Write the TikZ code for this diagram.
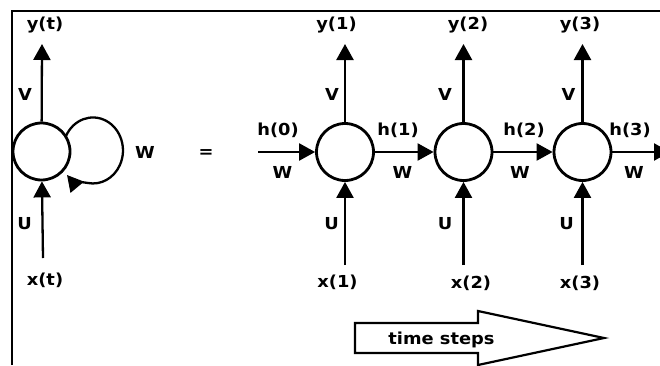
\documentclass[tikz,border=0pt]{standalone}
\usepackage{fontspec}
\newfontfamily\lblfont{DejaVu Sans}[FakeStretch=1.08]
\usetikzlibrary{arrows.meta}
\tikzset{
  neuron/.style={circle, draw, line width=2.8pt, minimum size=57pt, inner sep=0pt},
  arr/.style={line width=2.3pt, -{Triangle[length=16pt,width=17pt]}},
  lbl/.style={font=\lblfont\bfseries\fontsize{16.5}{16.5}\selectfont, inner sep=0pt},
  frameline/.style={line width=1.8pt},
}
\begin{document}
\begin{tikzpicture}[x=1pt,y=1pt]
\useasboundingbox (0,0) rectangle (660,365);
\clip (0,0) rectangle (660,365);
% frame
\coordinate (fa) at (12,0);
\coordinate (fb) at (12,354);
\coordinate (fc) at (662,354);
\draw[frameline] (fa) -- (fb) -- (fc);

% folded cell
\node[neuron] (c0) at (41.5,213.5) {};
\coordinate (y0) at (42,321);
\coordinate (x0) at (43,107);
\draw[arr] (c0) -- (y0);
\draw[arr] (x0) -- (c0);
\coordinate (ls) at (66,229);
\coordinate (lt) at (67,190);
\draw[arr] (ls) arc[start angle=154, end angle=-100, x radius=30, y radius=33] .. controls (81.8,183.2) and (72,184) .. (lt);
\node[lbl] (ly0) at (45,340) {y(t)};
\node[lbl] (lv0) at (25,271) {V};
\node[lbl] (lu0) at (24.5,141) {U};
\node[lbl] (lx0) at (45,85) {x(t)};
\node[lbl] (lw0) at (145,212.5) {W};
\node[lbl] (eq) at (206,211.5) {=};

% unfolded cells
\node[neuron] (c1) at (345,213) {};
\node[neuron] (c2) at (463.5,213) {};
\node[neuron] (c3) at (582.5,213) {};
\coordinate (hin) at (258,213);
\coordinate (hout) at (670,213);
\draw[arr] (hin) -- (c1);
\draw[arr] (c1) -- (c2);
\draw[arr] (c2) -- (c3);
\draw[arr] (c3) -- (hout);
\foreach \n/\xx in {1/345, 2/463.5, 3/582.5}{
  \coordinate (y\n) at (\xx,321);
  \coordinate (x\n) at (\xx,100);
  \draw[arr] (c\n) -- (y\n);
  \draw[arr] (x\n) -- (c\n);
}
\node[lbl] (ly1) at (336.5,340) {y(1)};
\node[lbl] (ly2) at (468,340) {y(2)};
\node[lbl] (ly3) at (580,340) {y(3)};
\node[lbl] (lv1) at (332,271) {V};
\node[lbl] (lv2) at (445,271) {V};
\node[lbl] (lv3) at (568.5,271) {V};
\node[lbl] (lh0) at (278,235) {h(0)};
\node[lbl] (lh1) at (398,235) {h(1)};
\node[lbl] (lh2) at (524,235) {h(2)};
\node[lbl] (lh3) at (630,235) {h(3)};
\node[lbl] (lw1) at (282.5,193) {W};
\node[lbl] (lw2) at (402.5,193) {W};
\node[lbl] (lw3) at (520,193) {W};
\node[lbl] (lw4) at (634,193) {W};
\node[lbl] (lu1) at (331.5,141) {U};
\node[lbl] (lu2) at (445,141) {U};
\node[lbl] (lu3) at (566.5,141) {U};
\node[lbl] (lx1) at (337.5,83) {x(1)};
\node[lbl] (lx2) at (471,82) {x(2)};
\node[lbl] (lx3) at (580,82) {x(3)};

% time steps arrow
\draw[line width=2.2pt, line join=miter] (355,42) -- (478,42) -- (478,54) -- (604,27) -- (478,0) -- (478,12) -- (355,12) -- cycle;
\node[lbl] (ts) at (441.5,25) {time steps};
\end{tikzpicture}
\end{document}
